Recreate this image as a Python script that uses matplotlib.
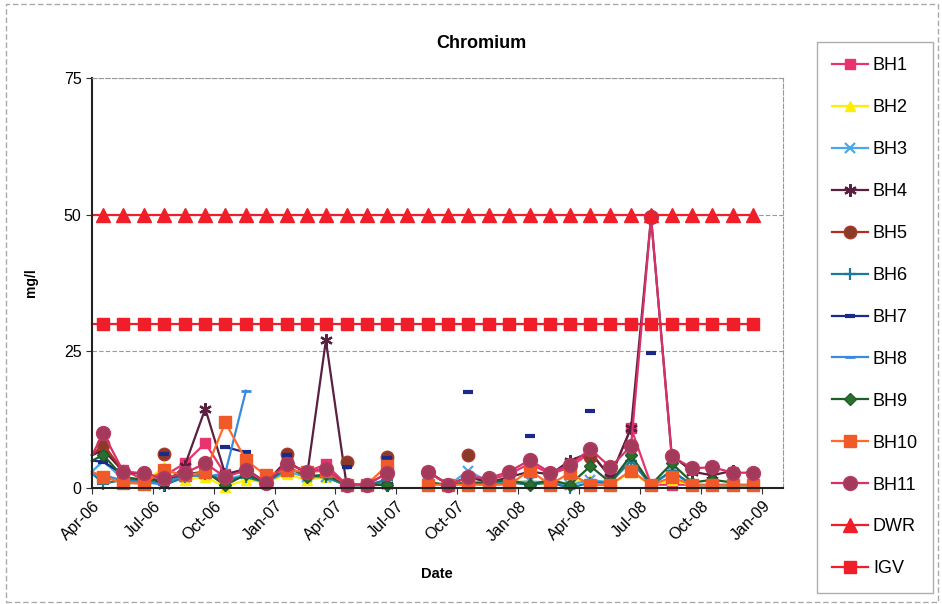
import numpy as np
import pandas as pd
import matplotlib
matplotlib.use('Agg')
import matplotlib.pyplot as plt
import matplotlib.dates as mdates

plt.rcParams['font.family'] = ['Liberation Sans', 'DejaVu Sans']

nan = np.nan

# sampling dates: a start reading on 1 Apr 2006, then one reading per month
dates = [pd.Timestamp('2006-04-01')] + list(
    pd.date_range('2006-04-01', periods=33, freq='MS') + pd.Timedelta(days=17))

# chromium concentrations (mg/l), one value per date, nan = not sampled
bh1 = [6, 7, 3.3, 1.5, 2.2, 4.5, 8.2, 2.5, 3, 1.2, 4.5, 3, 4.3, 0.6, 0.6, 2.7, nan,
       3, 0.6, 2, 1.5, 2.5, 4.5, 2.5, 3.8, 6.5, 2, 11, 0.6, 0.6, 0.6, 0.6, 0.6, 0.6]
bh2 = [3, 2, 1.5, 1, 3.8, 1.5, 2, 0.2, 1.5, 1, 2.5, 1.5, 2, 0.5, 0.5, 1, nan,
       1, 0.5, 1, 0.5, 1, 1.2, 0.5, 1, 1.5, 0.5, 3, 0.5, 1.5, 0.5, 0.5, 0.5, 0.5]
bh3 = [3, 5, 1.5, 1.5, 0.8, 2, 2.5, 1.5, 2.5, 1, 3, 2, 2, 0.5, 0.5, 1.5, nan,
       1, 0.5, 3.2, 1, 1, 1.2, 1, 0.5, 1.5, 1, 5.5, 0.5, 3, 0.5, 0.5, 0.5, 0.5]
bh4 = [6, 7, 3, 2.5, 0.5, 4, 14.5, 2.5, 3.5, 1, 5, 2.5, 27, 0.6, 0.6, 0.6, nan,
       3, 0.6, 2, 1, 2, 3, 2.5, 5, 6.5, 2, 11, 49.5, 6, 3, 2.3, 3.2, nan]
bh5 = [6, 8, 3, nan, 6.2, nan, nan, nan, nan, nan, 6.2, nan, nan, 4.8, nan, 5.6, nan,
       nan, nan, 6.1, nan, nan, nan, nan, nan, 5.6, nan, nan, nan, nan, nan, nan, nan, nan]
bh6 = [2.7, 0.8, 1.5, 1.5, 0.5, 2, 2.5, 1.5, 2, 1, 3.5, 2.5, 2, 0.5, 0.5, 1.5, nan,
       1, 0.5, 1, 0.5, 1, 0.6, 1, 0, 1, 1, 5, 0.5, 3.2, 0.5, 0.5, 0.5, 0.5]
bh7 = [5, 4.8, 2.5, nan, 6.2, nan, nan, 7.5, 6.5, nan, 6, nan, nan, 3.8, nan, 5.4, nan,
       nan, nan, 17.6, nan, nan, 9.6, nan, nan, 14.1, nan, nan, 24.7, nan, nan, 4.3, nan, nan]
bh8 = [2.5, 2.4, 1.3, 1, 0.7, 2.5, 2, 2.7, 17.8, nan, nan, nan, nan, nan, nan, nan, nan,
       nan, nan, nan, nan, nan, nan, nan, nan, nan, nan, nan, nan, nan, nan, nan, nan, nan]
bh9 = [5, 6, 2, 1.5, 1.5, 2.5, 3, 0.5, 2.5, 1, 4, 2, 2.5, 0.6, 0.6, 0.6, nan,
       1, 0.6, 1, 1, 1.5, 0.6, 1.5, 0.6, 4, 1, 6, 0.6, 4.5, 1, 1.5, 1, nan]
bh10 = [3, 2, 0.9, 0.8, 3.3, 2.3, 2.9, 12, 5.1, 2.3, 3.3, 2.9, 3.2, 0.6, 0.6, 4.1, nan,
        0.6, 0.6, 0.6, 0.6, 0.6, 3.2, 0.6, 2.8, 0.5, 0.6, 3.2, 0.5, 2, 0.5, 0.5, 0.5, 0.5]
bh11 = [6, 10, 3, 2.7, 1.8, 2.7, 4.5, 2, 3.3, 1, 4.4, 3, 3.5, 0.6, 0.6, 2.7, nan,
        2.9, 0.6, 2, 1.8, 3, 5.1, 2.8, 4.2, 7.1, 3.8, 7.7, 49.5, 5.8, 3.6, 3.8, 2.8, 2.8]
dwr = [50] * len(dates)   # drinking water regulation limit
igv = [30] * len(dates)   # intervention value

series = [
    ('BH1', bh1, dict(color='#e8336e', marker='s', ms=7, mfc='#e8336e')),
    ('BH2', bh2, dict(color='#ffee00', marker='^', ms=7, mfc='#ffee00')),
    ('BH3', bh3, dict(color='#4aa8e8', marker='x', ms=7, mew=1.6)),
    ('BH4', bh4, dict(color='#5a2040', marker=(6, 2, 0), ms=9, mew=1.6)),
    ('BH5', bh5, dict(color='#b03020', marker='o', ms=9, mfc='#8b3a2a', mec='#a83a2a')),
    ('BH6', bh6, dict(color='#1a7a9a', marker='+', ms=9, mew=1.6)),
    ('BH7', bh7, dict(color='#1a2a8a', marker='_', ms=7, mew=3)),
    ('BH8', bh8, dict(color='#3a8ae0', marker='_', ms=7, mew=2)),
    ('BH9', bh9, dict(color='#1e5e2a', marker='D', ms=6, mfc='#2a6e30')),
    ('BH10', bh10, dict(color='#ff6a28', marker='s', ms=9, mfc='#f05a28', mec='#f05a28')),
    ('BH11', bh11, dict(color='#d83068', marker='o', ms=10, mfc='#a33a5c', mec='#b83a60')),
    ('DWR', dwr, dict(color='#f01e28', marker='^', ms=10, mfc='#f01e28')),
    ('IGV', igv, dict(color='#f01e28', marker='s', ms=9, mfc='#f01e28')),
]

fig = plt.figure(figsize=(9.42, 6.04), dpi=100)
ax = fig.add_axes([92 / 942, 1 - 488 / 604, (783 - 92) / 942, (488 - 78) / 604])

for name, vals, style in series:
    ax.plot(dates, vals, label=name, lw=1.6, markevery=slice(1, None),
            clip_on=False, **style)

ax.set_ylim(0, 75)
ax.set_yticks([0, 25, 50, 75])
ax.set_xlim(pd.Timestamp('2006-04-01'), pd.Timestamp('2009-02-01'))
ax.xaxis.set_major_locator(mdates.MonthLocator(bymonth=[1, 4, 7, 10]))
ax.xaxis.set_major_formatter(mdates.DateFormatter('%b-%y'))
plt.setp(ax.get_xticklabels(), rotation=45, ha='right', rotation_mode='anchor')
ax.tick_params(labelsize=11.5, length=4, direction='out', color='#333333')
ax.grid(axis='y', color='#999999', lw=0.8, ls=(0, (4, 2)))
ax.set_axisbelow(True)

for side in ['left', 'bottom']:
    ax.spines[side].set_color('#222222')
    ax.spines[side].set_linewidth(1.5)
for side in ['top', 'right']:
    ax.spines[side].set_color('#999999')
    ax.spines[side].set_linestyle((0, (4, 2)))

ax.set_ylabel('mg/l', fontsize=10, fontweight='bold')
ax.yaxis.set_label_coords((38 - 92) / (783 - 92), 0.5)
ax.set_xlabel('Date', fontsize=10.5, fontweight='bold')
ax.xaxis.set_label_coords((437 - 92) / (783 - 92), -(574 - 488) / (488 - 78))
ax.xaxis.label.set_va('center')
fig.text(481 / 942, 1 - 43 / 604, 'Chromium', ha='center', va='center',
         fontsize=13, fontweight='bold')

leg = fig.legend(loc='upper left', bbox_to_anchor=(817 / 942, 1 - 42 / 604),
                 borderaxespad=0, fontsize=13, labelspacing=1.38,
                 handlelength=2.0, handletextpad=0.25, borderpad=0.85,
                 fancybox=False, edgecolor='#999999')
leg.get_frame().set_linewidth(1.0)

# outer chart border
fig.patches.append(plt.Rectangle((6 / 942, 2 / 604), 932 / 942, 598 / 604,
                                 transform=fig.transFigure, fill=False,
                                 ec='#aaaaaa', lw=1.0, ls=(0, (4, 2))))

fig.savefig('out.png', dpi=100)
